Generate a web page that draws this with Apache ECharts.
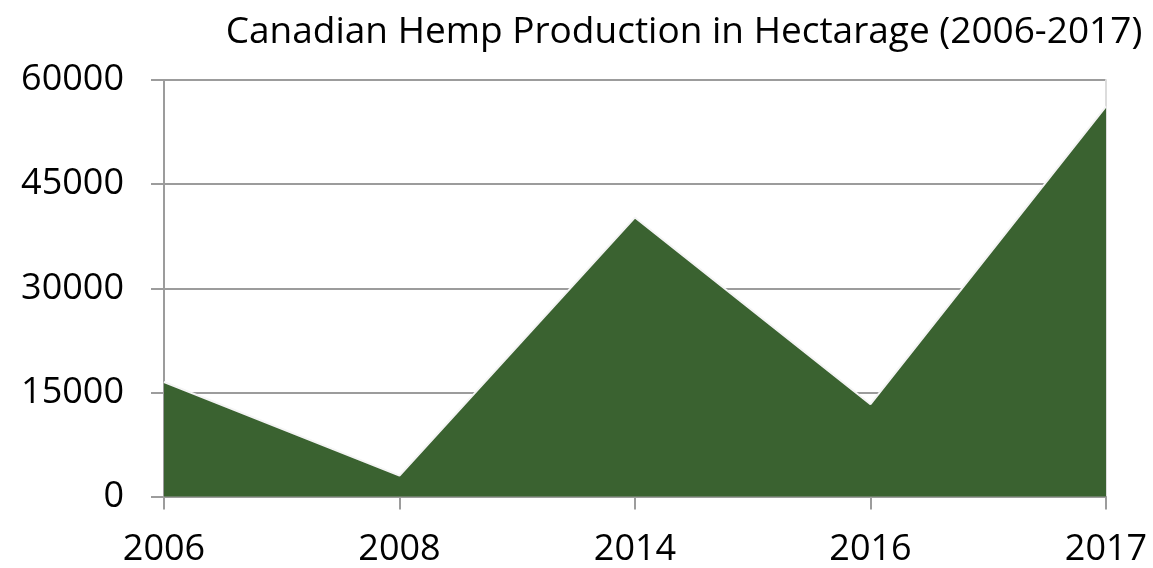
<!DOCTYPE html>
<html lang="en">
<head>
  <meta charset="UTF-8">
  <title>hemp</title>
  <style>
    * { padding: 0; margin: 0; }
    #charts { width: 1153px; height: 568px; background: #fff; }
  </style>
</head>
<body>
  <div id="charts"></div>
</body>
<script src="https://cdn.jsdelivr.net/npm/echarts@6/dist/echarts.min.js"></script>
<script type="text/javascript">
  var years = ['2006', '2008', '2014', '2016', '2017']
  var hectares = [16500, 3000, 40200, 13300, 56200]
  var yTicks = [0, 15000, 30000, 45000, 60000]

  var myChart = echarts.init(document.getElementById('charts'))
  var gray = '#9c9c9c'
  var font = '"Open Sans", sans-serif'

  var option = {
    animation: false,
    title: {
      text: 'Canadian Hemp Production in Hectarage (2006-2017)',
      left: 679,
      textAlign: 'center',
      top: 9,
      textStyle: { fontFamily: font, fontSize: 37, fontWeight: 'normal', color: '#000' }
    },
    grid: { left: 164, right: 47, top: 80, bottom: 71.5 },
    xAxis: {
      type: 'category',
      data: years,
      boundaryGap: false,
      axisLine: { lineStyle: { color: gray, width: 2 } },
      axisTick: { length: 13, lineStyle: { color: gray, width: 2 } },
      axisLabel: { fontFamily: font, fontSize: 36, color: '#000', margin: 35 },
      splitLine: { show: false }
    },
    yAxis: [{
      type: 'value',
      min: yTicks[0],
      max: yTicks[yTicks.length - 1],
      interval: 15000,
      axisLine: { show: true, lineStyle: { color: gray, width: 2 } },
      axisTick: { show: true, length: 13, lineStyle: { color: gray, width: 2 } },
      axisLabel: {
        fontFamily: font, fontSize: 36, color: '#000', margin: 40,
        formatter: function (v) { return String(v) }
      },
      splitLine: { lineStyle: { color: gray, width: 2 } }
    }, {
      type: 'value',
      position: 'right',
      min: yTicks[0],
      max: yTicks[yTicks.length - 1],
      axisLine: { show: true, lineStyle: { color: '#dcdcdc', width: 2 } },
      axisTick: { show: false },
      axisLabel: { show: false },
      splitLine: { show: false }
    }],
    series: [{
      name: 'Hectares',
      type: 'line',
      data: hectares,
      symbol: 'none',
      z: 3,
      lineStyle: { color: '#f4f4f4', width: 2 },
      areaStyle: { color: '#3a6230', opacity: 1 }
    }]
  }
  myChart.setOption(option)
</script>
</html>
